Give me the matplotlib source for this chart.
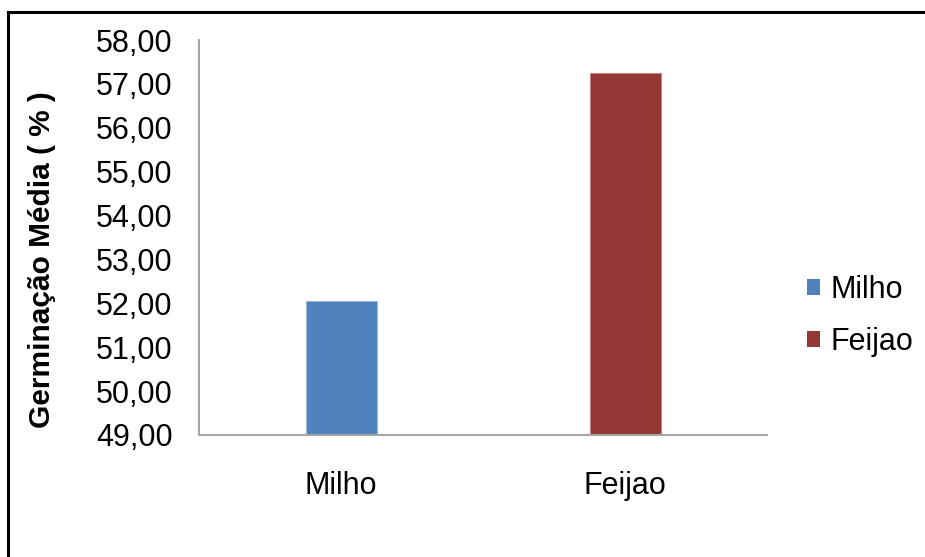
import matplotlib
matplotlib.use("Agg")
import matplotlib.pyplot as plt
from matplotlib.lines import Line2D
from matplotlib.ticker import FuncFormatter
from matplotlib.patches import Patch

categories = ["Milho", "Feijao"]
values = [52.06, 57.24]
colors = ["#4F81BD", "#953735"]
y_ticks = [49, 50, 51, 52, 53, 54, 55, 56, 57, 58]

plt.rcParams["font.family"] = ["Liberation Sans", "DejaVu Sans"]

W, H = 925, 557
fig = plt.figure(figsize=(W / 100, H / 100), dpi=100)
ax = fig.add_axes([199 / W, 1 - 435 / H, (767 - 199) / W, (435 - 40) / H])

x = list(range(len(categories)))
ax.bar(x, [v - y_ticks[0] for v in values], bottom=y_ticks[0], width=0.25,
       color=colors, edgecolor=["#9DB7DC", "#C08584"], linewidth=0.8)

ax.set_xlim(-0.5, len(categories) - 0.5)
ax.set_ylim(y_ticks[0], y_ticks[-1])
ax.set_yticks(y_ticks)
ax.yaxis.set_major_formatter(FuncFormatter(lambda v, p: f"{v:.2f}".replace(".", ",")))
ax.set_xticks(x)
ax.set_xticklabels(categories)
ax.tick_params(axis="both", length=0, labelsize=22, colors="black")
ax.tick_params(axis="y", pad=19)
ax.tick_params(axis="x", pad=26)

for side in ("top", "right"):
    ax.spines[side].set_visible(False)
for side in ("left", "bottom"):
    ax.spines[side].set_color("#A6A6A6")
    ax.spines[side].set_linewidth(1.5)

fig.text(42 / W, 1 - 260 / H, "Germinação Média ( % )", rotation=90, fontsize=21.5,
         fontweight="bold", ha="center", va="center")

handles = [Patch(facecolor=c, edgecolor="none") for c in colors]
fig.legend(handles, categories, loc="center left", bbox_to_anchor=(783 / W, 1 - 316 / H),
           frameon=False, fontsize=22, handlelength=0.42, handleheight=0.42,
           handletextpad=0.35, labelspacing=0.7, borderpad=0.3)

# outer frame (top and left edges)
fig.add_artist(Line2D([7.5 / W, 1.0], [1 - 12 / H, 1 - 12 / H], color="black", linewidth=2.2,
                      transform=fig.transFigure))
fig.add_artist(Line2D([7.5 / W, 7.5 / W], [0.0, 1 - 12 / H], color="black", linewidth=2.2,
                      transform=fig.transFigure))

fig.savefig("out.png", dpi=100)
